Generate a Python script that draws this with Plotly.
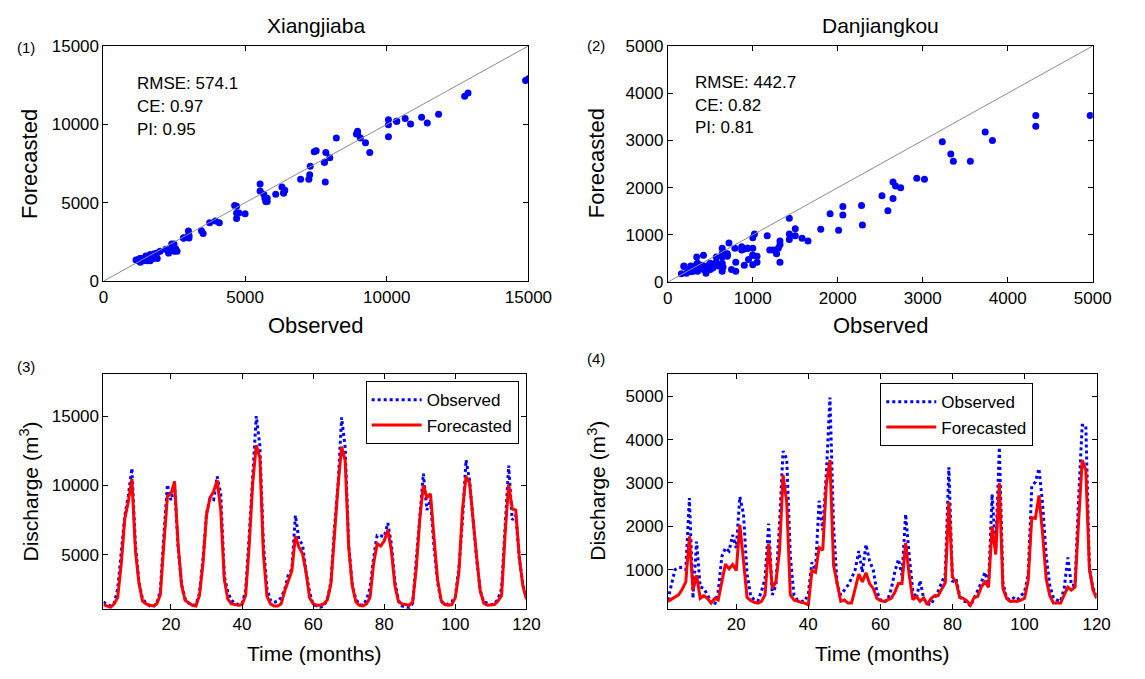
import plotly.graph_objects as go

W, H = 1145, 679

# ---------------- data ----------------
months = list(range(1, 121))

xjb_obs = [1600, 1400, 1300, 1500, 2500, 5000, 7800, 9250, 11230, 5700,
           3000, 1800, 1500, 1300, 1250, 1450, 2400, 6400, 10060, 8930,
           10060, 5530, 2830, 1800, 1500, 1400, 1350, 2200, 4700, 7990,
           9070, 8970, 10650, 9400, 3460, 2300, 1700, 1500, 1400, 1450,
           2430, 6360, 10350, 15000, 12870, 5780, 2550, 1700, 1550, 1650,
           1900, 2490, 3520, 3950, 7830, 6080, 5730, 3750, 2280, 1400,
           1300, 1200, 1300, 1800, 3020, 6960, 10060, 14900, 12750, 5660,
           2830, 1800, 1400, 1350, 1750, 2600, 4780, 6390, 6360, 6300,
           7280, 5780, 3020, 1700, 1300, 1250, 1150, 1500, 4700, 7800,
           10840, 8220, 8970, 5530, 3000, 1650, 1400, 1450, 1600, 2000,
           4090, 7440, 11830, 10350, 7300, 4630, 2410, 1600, 1500, 1400,
           1450, 1800, 2550, 7250, 11430, 7510, 7850, 4700, 2830, 1900]

xjb_fc = [1400, 1300, 1200, 1450, 1900, 4300, 7580, 8830, 10460, 5290,
          2920, 1650, 1450, 1350, 1300, 1450, 2100, 5790, 9210, 9390,
          10290, 5750, 2750, 1700, 1500, 1350, 1300, 2040, 4350, 7875,
          9125, 9560, 10375, 8210, 3210, 1790, 1450, 1400, 1350, 1400,
          2060, 5625, 10190, 12900, 12000, 5080, 2000, 1450, 1300, 1300,
          1450, 2375, 3040, 3830, 6330, 5540, 5080, 3730, 1900, 1450,
          1350, 1350, 1450, 1750, 2920, 6500, 9980, 12800, 11790, 5540,
          2750, 1600, 1350, 1300, 1450, 1900, 4350, 5790, 5625, 6000,
          6790, 5290, 2750, 1600, 1450, 1400, 1350, 1600, 4000, 7580,
          10020, 9125, 9390, 6200, 3200, 1700, 1400, 1350, 1400, 1900,
          3730, 8250, 10650, 10190, 7330, 4830, 2375, 1500, 1350, 1350,
          1400, 1650, 2060, 6500, 10080, 8310, 8210, 4770, 2750, 1800]

djk_obs = [300, 650, 1000, 1050, 1050, 1000, 2650, 340, 1650, 600,
           570, 420, 250, 190, 500, 1300, 1500, 1430, 1800, 1500,
           2680, 2290, 900, 400, 300, 280, 500, 800, 2060, 420,
           640, 2060, 3735, 3560, 1320, 420, 300, 270, 270, 450,
           1170, 1000, 2590, 1910, 3230, 4970, 2010, 650, 420, 530,
           640, 800, 1000, 1430, 940, 1580, 1200, 1000, 500, 300,
           250, 300, 550, 950, 1240, 870, 2280, 1320, 500, 340,
           750, 340, 220, 190, 350, 500, 700, 900, 3360, 720,
           790, 400, 270, 260, 160, 340, 490, 700, 940, 650,
           2740, 1430, 3820, 700, 350, 300, 350, 300, 400, 490,
           870, 2930, 3020, 3330, 2520, 1320, 640, 350, 300, 270,
           570, 1280, 640, 640, 2650, 4330, 4330, 1020, 570, 420]

djk_fc = [270, 320, 370, 420, 550, 720, 1770, 530, 870, 340,
          400, 340, 230, 340, 300, 720, 1130, 1020, 1120, 980,
          2035, 1210, 360, 290, 250, 230, 270, 420, 1600, 570,
          720, 1420, 3180, 2560, 420, 300, 270, 250, 230, 190,
          980, 940, 1510, 1450, 2970, 3530, 1100, 640, 270, 300,
          230, 230, 570, 900, 720, 930, 680, 570, 340, 290,
          270, 300, 340, 480, 680, 680, 1620, 870, 310, 380,
          270, 350, 190, 330, 400, 400, 550, 700, 2560, 830,
          720, 360, 340, 280, 180, 360, 380, 600, 720, 600,
          2000, 1350, 3000, 570, 340, 270, 280, 270, 300, 340,
          750, 2200, 2180, 2710, 1830, 790, 400, 230, 230, 230,
          420, 600, 530, 600, 2120, 3530, 3300, 1020, 530, 340]

stations = ["Xiangjiaba", "Danjiangkou"]
stats_lines = [["RMSE: 574.1", "CE: 0.97", "PI: 0.95"],
               ["RMSE: 442.7", "CE: 0.82", "PI: 0.81"]]
panel_tags = ["(1)", "(2)", "(3)", "(4)"]
scatter_max = [15000, 5000]
scatter_ticks = [[0, 5000, 10000, 15000], [0, 1000, 2000, 3000, 4000, 5000]]
ts_yrange = [[1100, 18000], [100, 5500]]
ts_yticks = [[5000, 10000, 15000], [1000, 2000, 3000, 4000, 5000]]
time_ticks = [20, 40, 60, 80, 100, 120]
time_range = [1, 120]

obs_sets = [xjb_obs, djk_obs]
fc_sets = [xjb_fc, djk_fc]

# ---------------- layout geometry (pixels) ----------------
FONT = "Liberation Sans, Arial, sans-serif"
BLUE = "#0000FF"
RED = "#FF0000"

def fx(px):
    return px / W

def fy(py):
    return 1 - py / H

# plot boxes: (left, right, top, bottom)
boxes = {
    1: (101, 537, 38, 280),
    2: (680, 1116, 38, 281),
    3: (101, 535, 376, 617),
    4: (680, 1120, 376, 617),
}

fig = go.Figure()

# scatter panels
for i in range(2):
    ax = "" if i == 0 else "2"
    fig.add_trace(go.Scatter(
        x=obs_sets[i], y=fc_sets[i], mode="markers",
        marker=dict(color=BLUE, size=7, line=dict(width=0)),
        xaxis="x" + ax, yaxis="y" + ax, showlegend=False, hoverinfo="x+y"))
    fig.add_trace(go.Scatter(
        x=[0, scatter_max[i]], y=[0, scatter_max[i]], mode="lines",
        line=dict(color="#8c8c8c", width=1),
        xaxis="x" + ax, yaxis="y" + ax, showlegend=False, hoverinfo="skip"))

# time-series panels
for i in range(2):
    ax = str(3 + i)
    lg = "legend" if i == 0 else "legend2"
    fig.add_trace(go.Scatter(
        x=months, y=obs_sets[i], mode="lines", name="Observed",
        line=dict(color=BLUE, width=3, dash="dot"),
        xaxis="x" + ax, yaxis="y" + ax, legend=lg))
    fig.add_trace(go.Scatter(
        x=months, y=fc_sets[i], mode="lines", name="Forecasted",
        line=dict(color=RED, width=3),
        xaxis="x" + ax, yaxis="y" + ax, legend=lg))

common = dict(showline=True, linecolor="black", linewidth=1, mirror="ticks",
              ticks="inside", ticklen=5, tickcolor="black", showgrid=False,
              zeroline=False, tickformat="d",
              tickfont=dict(family=FONT, size=17, color="black"))

layout = dict(width=W, height=H, margin=dict(l=0, r=0, t=0, b=0),
              paper_bgcolor="white", plot_bgcolor="white",
              font=dict(family=FONT, color="black"))

for k, (l, r, t, b) in boxes.items():
    sfx = "" if k == 1 else str(k)
    xa = dict(common, domain=[fx(l), fx(r)], anchor="y" + sfx)
    ya = dict(common, domain=[fy(b), fy(t)], anchor="x" + sfx)
    if k in (1, 2):
        i = k - 1
        xa.update(range=[0, scatter_max[i]], tickvals=scatter_ticks[i])
        ya.update(range=[0, scatter_max[i]], tickvals=scatter_ticks[i])
    else:
        i = k - 3
        xa.update(range=time_range, tickvals=time_ticks)
        ya.update(range=ts_yrange[i], tickvals=ts_yticks[i])
    layout["xaxis" + sfx] = xa
    layout["yaxis" + sfx] = ya

legend_common = dict(bgcolor="white", bordercolor="black", borderwidth=1,
                     font=dict(family=FONT, size=17, color="black"),
                     xanchor="right", yanchor="top", tracegroupgap=0,
                     itemwidth=50)
layout["legend"] = dict(legend_common, x=fx(527), y=fy(383))
layout["legend2"] = dict(legend_common, x=fx(1055), y=fy(385))

fig.update_layout(**layout)

ann = []
def txt(x, y, s, size, xanchor="center", yanchor="middle", angle=0):
    ann.append(dict(x=fx(x), y=fy(y), xref="paper", yref="paper", text=s,
                    showarrow=False, xanchor=xanchor, yanchor=yanchor,
                    textangle=angle, font=dict(family=FONT, size=size, color="black")))

# titles
txt(319, 17, stations[0], 21)
txt(898, 17, stations[1], 21)
# axis titles
txt(319, 326, "Observed", 22)
txt(898, 326, "Observed", 22)
txt(25, 159, "Forecasted", 22, angle=-90)
txt(607, 159, "Forecasted", 22, angle=-90)
txt(318, 663, "Time (months)", 21)
txt(900, 663, "Time (months)", 21)
txt(25, 496, "Discharge (m<sup>3</sup>)", 21, angle=-90)
txt(607, 496, "Discharge (m<sup>3</sup>)", 21, angle=-90)
# panel tags
txt(22, 40, panel_tags[0], 15)
txt(606, 38, panel_tags[1], 15)
txt(22, 368, panel_tags[2], 15)
txt(606, 360, panel_tags[3], 15)
# statistics
for j, s in enumerate(stats_lines[0]):
    txt(133, 77 + 23.3 * j, s, 17, xanchor="left")
for j, s in enumerate(stats_lines[1]):
    txt(706, 76 + 23 * j, s, 17, xanchor="left")

fig.update_layout(annotations=ann)
fig.write_html("out.html",
               post_script="document.body.style.margin='0';document.body.style.overflow='hidden';")
